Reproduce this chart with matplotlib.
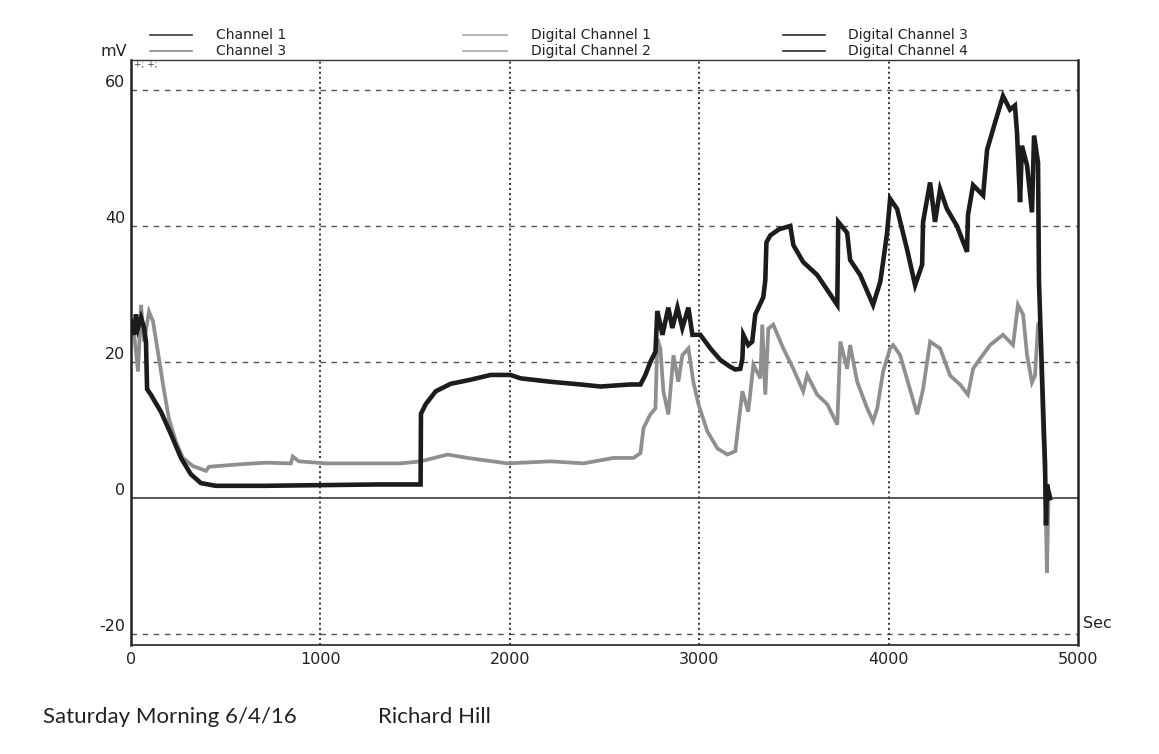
import matplotlib
matplotlib.use("Agg")
import matplotlib.pyplot as plt
from matplotlib.lines import Line2D

# ---------------- data ----------------
ch1_t = [0, 16, 26, 37, 53, 69, 79, 85, 105, 130, 158, 211, 264, 316, 369, 448,
         700, 1000, 1300, 1529, 1531, 1556, 1609, 1688, 1793, 1899, 2004, 2057,
         2215, 2373, 2479, 2637, 2690, 2716, 2742, 2769, 2779, 2806, 2837, 2858,
         2885, 2911, 2943, 2964, 3006, 3059, 3112, 3164, 3191, 3217, 3228, 3233,
         3259, 3280, 3296, 3338, 3349, 3355, 3375, 3420, 3481, 3497, 3549, 3623,
         3729, 3734, 3781, 3797, 3850, 3918, 3956, 3971, 3992, 4008, 4045, 4098,
         4140, 4177, 4182, 4219, 4245, 4272, 4308, 4361, 4414, 4419, 4446, 4499,
         4520, 4562, 4604, 4641, 4667, 4678, 4694, 4704, 4731, 4757, 4768, 4789,
         4794, 4815, 4826, 4831, 4836, 4852]
ch1_mv = [26, 24, 27, 25, 26.5, 25, 23, 16, 15.2, 14, 12.7, 9.4, 5.9, 3.5, 2.2, 1.8,
          1.8, 1.9, 2.0, 2.0, 12.4, 13.8, 15.7, 16.8, 17.4, 18.1, 18.1, 17.6,
          17.1, 16.7, 16.4, 16.7, 16.7, 18.1, 20, 21.5, 27.5, 24, 28, 25,
          28, 25, 28, 24, 24, 22, 20.3, 19.3, 18.9, 19, 20.5, 24,
          22.5, 23, 27, 29.5, 32, 37.6, 38.6, 39.5, 40, 37.2, 34.7, 32.8,
          28.4, 40.6, 39, 35, 32.8, 28.4, 31.8, 34.7, 39, 44, 42.5, 36.5,
          31.3, 34.3, 40.6, 46.4, 40.6, 45.4, 42.5, 40, 36.2, 41.6, 46, 44.5,
          51.2, 55.2, 59.1, 57.1, 57.7, 53.7, 43.5, 51.8, 48.9, 42, 53.3, 49.3,
          31.8, 14, 5, -4, 2, 0]

ch3_t = [0, 11, 37, 53, 69, 95, 116, 142, 169, 200, 237, 274, 327, 396, 411, 591,
         712, 844, 854, 886, 1028, 1424, 1529, 1672, 1777, 1988, 2215, 2389, 2547,
         2653, 2690, 2706, 2742, 2769, 2779, 2795, 2811, 2837, 2864, 2890, 2911,
         2943, 2969, 2996, 3043, 3096, 3149, 3191, 3201, 3228, 3259, 3286, 3323,
         3333, 3349, 3365, 3391, 3444, 3497, 3549, 3570, 3623, 3676, 3729, 3745,
         3781, 3797, 3834, 3887, 3918, 3940, 3971, 4008, 4024, 4061, 4151, 4182,
         4219, 4272, 4325, 4377, 4419, 4446, 4483, 4536, 4604, 4657, 4683, 4710,
         4731, 4757, 4773, 4789, 4799, 4815, 4826, 4836, 4845, 4858]
ch3_mv = [24, 25.5, 18.6, 28.4, 23, 27.4, 26, 21.5, 16.7, 11.7, 8.3, 5.9, 4.7, 4.0, 4.6, 5.0,
          5.2, 5.1, 6.1, 5.4, 5.1, 5.1, 5.4, 6.4, 5.9, 5.1, 5.4, 5.1, 5.9,
          5.9, 6.6, 10.3, 12.3, 13.2, 23.4, 22, 15.7, 12.3, 21, 17.1, 21,
          22, 17.1, 13.8, 9.8, 7.3, 6.4, 6.9, 9.4, 15.7, 12.7, 19.6, 17.6,
          25.5, 15.2, 24.9, 25.5, 22, 19, 15.7, 18.1, 15.2, 13.8, 10.8, 23,
          19, 22.5, 17.1, 13.2, 11.3, 13.2, 18.6, 22, 22.5, 21, 12.3, 16,
          23, 22, 18, 16.7, 15.2, 19, 20.5, 22.5, 24, 22.5, 28.4, 27,
          21, 17, 18, 25.5, 26, 10, 3, -11, 1, 0]

y_ticks = [60, 40, 20, 0, -20]
x_ticks = [0, 1000, 2000, 3000, 4000, 5000]
legend_names = [["Channel 1", "Digital Channel 1", "Digital Channel 3"],
                ["Channel 3", "Digital Channel 2", "Digital Channel 4"]]
legend_colors = [["#3a3a3a", "#a8a8a8", "#2a2a2a"],
                 ["#8a8a8a", "#a8a8a8", "#2a2a2a"]]

# ---------------- figure ----------------
W, H = 1159, 754
fig = plt.figure(figsize=(W / 100, H / 100), dpi=100)
fig.patch.set_facecolor("white")

def fx(px):
    return px / W

def fy(py):
    return 1 - py / H

ax = fig.add_axes([fx(131), fy(645), fx(1078) - fx(131), fy(60) - fy(645)])
ax.set_xlim(0, 5000)
ax.set_ylim(-21.6, 64.4)

# grid
for v in y_ticks:
    if v == 0:
        ax.axhline(v, color="#2a2a2a", lw=1.1, zorder=1)
    else:
        ax.axhline(v, color="#555555", lw=1.0, ls=(0, (4, 4)), zorder=1)
for v in x_ticks[1:-1]:
    ax.axvline(v, color="#333333", lw=1.4, ls=(0, (1, 1.6)), zorder=1)

# traces
ax.plot(ch3_t, ch3_mv, color="#8f8f8f", lw=2.7, zorder=2, solid_joinstyle="miter")
ax.plot(ch1_t, ch1_mv, color="#1c1c1c", lw=3.3, zorder=3, solid_joinstyle="miter")

# spines
for s in ["left", "right"]:
    ax.spines[s].set_linewidth(1.8)
    ax.spines[s].set_color("#222222")
ax.spines["top"].set_linewidth(1.0)
ax.spines["bottom"].set_linewidth(1.3)
ax.spines["top"].set_color("#333333")
ax.spines["bottom"].set_color("#333333")

tick_font = dict(family="DejaVu Sans", size=11.5, color="#222222")
ax.set_yticks(y_ticks)
ax.set_yticklabels([str(v) for v in y_ticks], **tick_font)
ax.set_xticks(x_ticks)
ax.set_xticklabels([str(v) for v in x_ticks], **tick_font)
ax.tick_params(axis="both", length=0)
ax.tick_params(axis="y", pad=4)
ax.tick_params(axis="x", pad=5)
for lab in ax.get_yticklabels():
    lab.set_verticalalignment("bottom")

# axis unit labels
fig.text(fx(100), fy(51), "mV", ha="left", va="center", **tick_font)
fig.text(fx(1083), fy(623), "Sec", ha="left", va="center", **tick_font)
fig.text(fx(134), fy(64), "+; +;", ha="left", va="center", family="DejaVu Sans",
         size=6.5, color="#444444")

# legend (two rows, three columns)
line_x = [(150, 192), (463, 507), (783, 825)]
text_x = [216, 531, 848]
row_y = [35, 51]
for r in range(2):
    for c in range(3):
        x0, x1 = line_x[c]
        fig.add_artist(Line2D([fx(x0), fx(x1)], [fy(row_y[r]), fy(row_y[r])],
                              color=legend_colors[r][c], lw=1.2,
                              transform=fig.transFigure))
        fig.text(fx(text_x[c]), fy(row_y[r]), legend_names[r][c], ha="left",
                 va="center", family="DejaVu Sans", size=10, color="#222222")

# footer
foot = dict(family="Lato", size=16, color="#222222")
fig.text(fx(43), fy(717), "Saturday Morning 6/4/16", ha="left", va="center", **foot)
fig.text(fx(378), fy(717), "Richard Hill", ha="left", va="center", **foot)

fig.savefig("out.png", dpi=100, facecolor="white")
